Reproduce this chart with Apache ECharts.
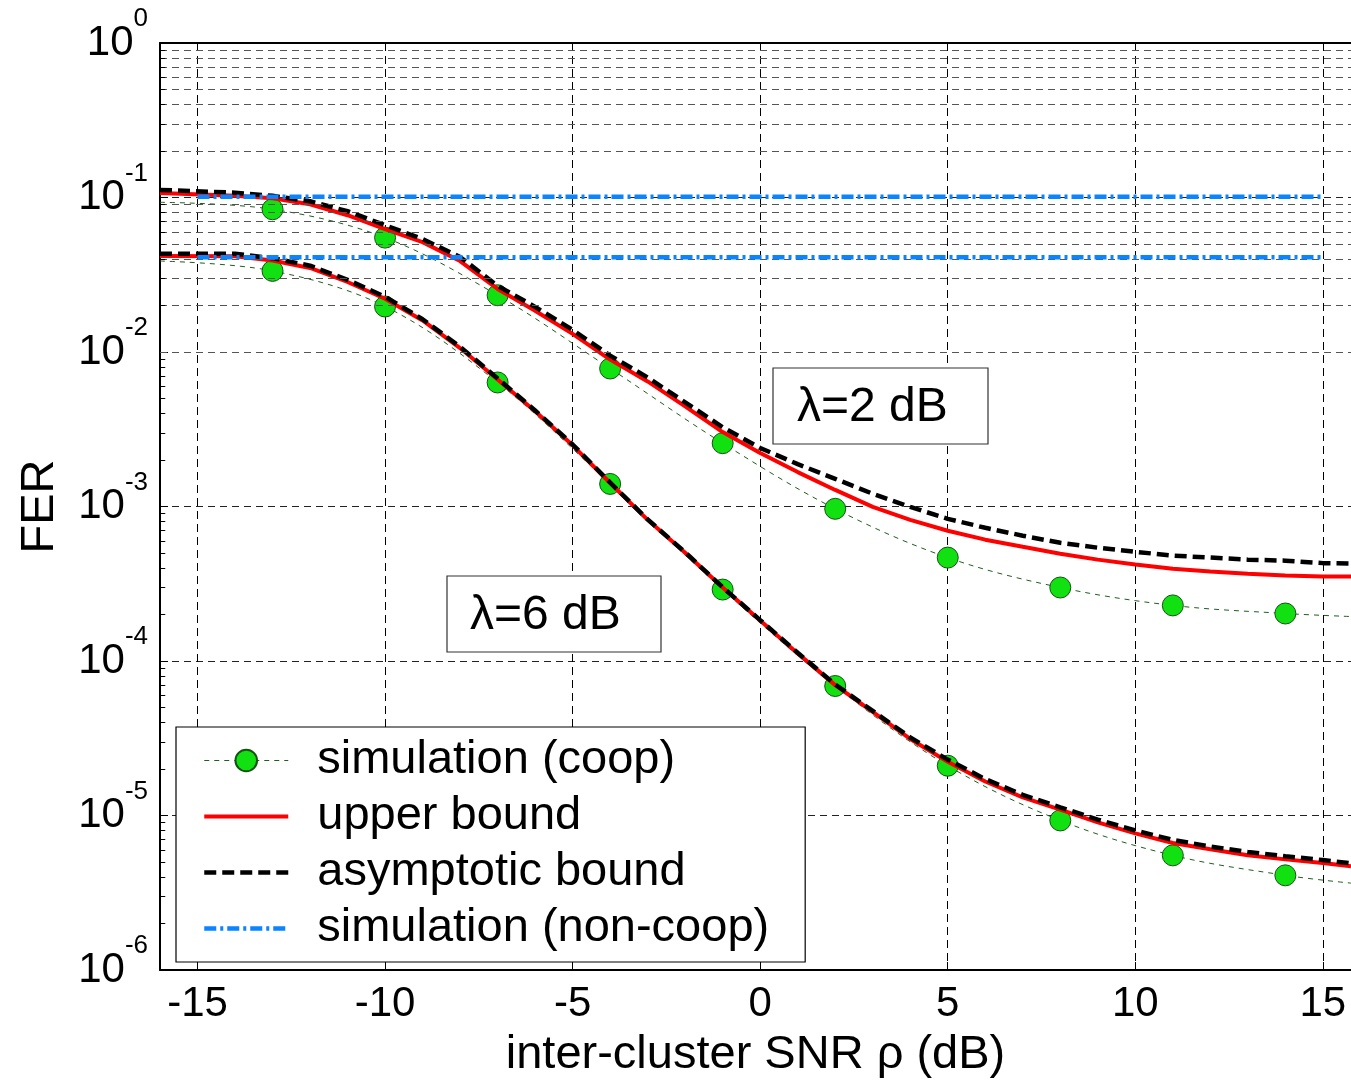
<!DOCTYPE html>
<html><head><meta charset="utf-8">
<script src="https://cdn.jsdelivr.net/npm/echarts@6/dist/echarts.min.js"></script>
<style>html,body{margin:0;padding:0;background:#fff}#c{width:1351px;height:1084px}</style>
</head><body><div id="c"></div>
<script>
const FONT = '"Liberation Sans", Arial, Helvetica, sans-serif';

// x positions (dB) at which the bound curves were read
const snrAxis = [-16,-14,-13,-12,-11,-10,-9,-8,-7,-6,-5,-4,-3,-2,-1,0,1,2,3,4,5,6,7,8,9,10,11,12,13,14,15,15.75];
// lambda = 2 dB
const upperL2 = [0.107,0.1025,0.0988,0.0904,0.0768,0.0624,0.0514,0.0388,0.0256,0.0185,0.0131,0.00893,0.00645,0.00445,0.00303,0.00222,0.00167,0.00128,0.000994,0.000820,0.000697,0.000610,0.000549,0.000495,0.000453,0.000421,0.000396,0.000379,0.000367,0.000357,0.000352,0.000352];
const asymL2 = [0.112,0.1075,0.1025,0.0945,0.0815,0.0662,0.0538,0.0412,0.0268,0.0196,0.0139,0.00948,0.00684,0.00472,0.00326,0.00239,0.00188,0.00151,0.00121,0.000994,0.000832,0.000728,0.000647,0.000582,0.000541,0.000509,0.000481,0.000467,0.000453,0.000446,0.000430,0.000427];
// lambda = 6 dB
const upperL6 = [0.0418,0.0416,0.0391,0.0350,0.0284,0.0221,0.0160,0.0106,0.00664,0.00413,0.00249,0.00142,0.000820,0.000502,0.000299,0.000183,0.000112,6.98e-5,4.68e-5,3.13e-5,2.23e-5,1.66e-5,1.31e-5,1.09e-5,9.03e-6,7.66e-6,6.64e-6,6.04e-6,5.53e-6,5.20e-6,4.93e-6,4.69e-6];
const asymL6 = [0.0433,0.0432,0.0405,0.0362,0.0293,0.0228,0.0163,0.0108,0.00675,0.00418,0.00252,0.00143,0.000825,0.000505,0.000300,0.000184,0.000113,7.05e-5,4.75e-5,3.2e-5,2.3e-5,1.72e-5,1.36e-5,1.13e-5,9.4e-6,8.0e-6,6.95e-6,6.3e-6,5.8e-6,5.45e-6,5.15e-6,4.9e-6];

// cooperative simulation points
const simSnr = [-13,-10,-7,-4,-1,2,5,8,11,14];
const simCoopL2 = [0.0839,0.0550,0.0233,0.00782,0.00257,0.000966,0.000467,0.000299,0.000229,0.000203];
const simCoopL6 = [0.0335,0.0197,0.00635,0.00140,0.000290,6.89e-5,2.10e-5,9.29e-6,5.52e-6,4.10e-6];
// ends of the thin fitted dashed line through the simulation points
const fitEndSnr = [-16, 15.75];
const fitEndL2 = [0.0931, 0.000194];
const fitEndL6 = [0.0388, 3.65e-6];

// non-cooperative simulation (flat)
const nonCoopSnr = [-15, 15];
const nonCoopL2 = [0.101, 0.101];
const nonCoopL6 = [0.041, 0.041];

const xTicks = [-15,-10,-5,0,5,10,15];
const minorMult = [2,3,4,5,6,7,8,9];
const decadeExp = [-6,-5,-4,-3,-2,-1];
const X_MIN = -16, X_MAX = 15.75, MINOR_TICK_SPAN = 0.14;

const pairs = (xs, ys) => xs.map((x,i)=>[x, ys[i]]);
function coopData(ends, pts){
  const d = [{value:[fitEndSnr[0], ends[0]], symbol:'none'}];
  simSnr.forEach((x,i)=>d.push([x, pts[i]]));
  d.push({value:[fitEndSnr[1], ends[1]], symbol:'none'});
  return d;
}
const minorVals = [];
decadeExp.forEach(e=>minorMult.forEach(m=>minorVals.push(m*Math.pow(10,e))));

const GREEN_LINE = {color:'#1f5f1f', width:1, type:[5,5]};
const RED_LINE = {color:'#ff0000', width:4};
const BLACK_LINE = {color:'#000000', width:4.5, type:[12,6]};
const BLUE_LINE = {color:'#0a84ff', width:4.5, type:[12,4,3,4]};

const coopStyle = {
  type:'line', name:'simulation (coop)', smooth:0.35, z:2,
  symbol:'circle', symbolSize:21,
  lineStyle:GREEN_LINE,
  itemStyle:{color:'#11e011', borderColor:'#145214', borderWidth:1}
};
const upperStyle = {type:'line', name:'upper bound', showSymbol:false, symbol:'none', z:3,
  lineStyle:RED_LINE, itemStyle:{color:'#ff0000', opacity:0}};
const asymStyle = {type:'line', name:'asymptotic bound', showSymbol:false, symbol:'none', z:4,
  lineStyle:BLACK_LINE, itemStyle:{color:'#000', opacity:0}};
const nonStyle = {type:'line', name:'simulation (non-coop)', showSymbol:false, symbol:'none', z:5,
  lineStyle:BLUE_LINE, itemStyle:{color:'#0a84ff', opacity:0}};

const chart = echarts.init(document.getElementById('c'), null, {renderer:'canvas'});
chart.setOption({
  animation:false,
  backgroundColor:'#fff',
  grid:{left:160, top:43, right:0, bottom:111, containLabel:false},
  xAxis:[{
    type:'value', min:X_MIN, max:X_MAX,
    name:'inter-cluster SNR ρ (dB)', nameLocation:'middle', nameGap:62,
    nameTextStyle:{fontFamily:FONT, fontSize:47, color:'#000'},
    axisLine:{show:true, onZero:false, lineStyle:{color:'#000', width:2}},
    axisTick:{show:true, inside:true, length:8, customValues:xTicks, lineStyle:{color:'#000'}},
    axisLabel:{customValues:xTicks, margin:13, fontFamily:FONT, fontSize:42, color:'#000'},
    splitLine:{show:true, lineStyle:{color:'#000', width:1, type:[8,5]}}
  },{
    type:'value', position:'top', min:X_MIN, max:X_MAX,
    axisLine:{show:true, onZero:false, lineStyle:{color:'#000', width:2}},
    axisTick:{show:true, inside:true, length:8, customValues:xTicks, lineStyle:{color:'#000'}},
    axisLabel:{show:false}, splitLine:{show:false}
  }],
  yAxis:{
    type:'log', logBase:10, min:1e-6, max:1, interval:1,
    name:'FER', nameLocation:'middle', nameGap:96, nameRotate:90,
    nameTextStyle:{fontFamily:FONT, fontSize:47, color:'#000'},
    axisLine:{show:true, onZero:false, lineStyle:{color:'#000', width:2}},
    axisTick:{show:true, inside:true, length:8, lineStyle:{color:'#000'}},
    axisLabel:{
      margin:12, fontFamily:FONT, color:'#000',
      formatter:function(v){ const e=Math.round(Math.log10(v)); return '{b|10}{s|'+e+'}'; },
      rich:{
        b:{fontFamily:FONT, fontSize:42, lineHeight:74, color:'#000'},
        s:{fontFamily:FONT, fontSize:26, lineHeight:20, verticalAlign:'top', color:'#000'}
      }
    },
    splitLine:{show:true, lineStyle:{color:'#222', width:1, type:[7,5]}}
  },
  legend:{
    data:[
      {name:'simulation (coop)', lineStyle:GREEN_LINE},
      {name:'upper bound', itemStyle:{opacity:0}, lineStyle:RED_LINE},
      {name:'asymptotic bound', itemStyle:{opacity:0}, lineStyle:BLACK_LINE},
      {name:'simulation (non-coop)', itemStyle:{opacity:0}, lineStyle:BLUE_LINE}
    ],
    orient:'vertical', left:176, top:727,
    backgroundColor:'#fff', borderColor:'#000', borderWidth:1.2,
    padding:[10,36,10,26], itemWidth:84, itemHeight:27, itemGap:9,
    textStyle:{fontFamily:FONT, fontSize:47, lineHeight:46, color:'#000', padding:[0,0,0,24]},
    selectedMode:false
  },
  graphic:[
    {type:'rect', z:10, shape:{x:773, y:368, width:215, height:76}, style:{fill:'#fff', stroke:'#333', lineWidth:1.2}},
    {type:'text', z:11, x:797, y:408, style:{text:'λ=2 dB', font:'48px '+FONT, fill:'#000', verticalAlign:'middle'}},
    {type:'rect', z:10, shape:{x:447, y:576, width:214, height:76}, style:{fill:'#fff', stroke:'#333', lineWidth:1.2}},
    {type:'text', z:11, x:470, y:616, style:{text:'λ=6 dB', font:'48px '+FONT, fill:'#000', verticalAlign:'middle'}}
  ],
  series:[
    {type:'line', name:'_minorgrid', data:[], silent:true, z:1,
      markLine:{silent:true, symbol:'none', animation:false, label:{show:false},
        lineStyle:{color:'#555', width:1, type:[7,5]},
        emphasis:{disabled:true},
        data:minorVals.map(v=>({yAxis:v}))}},
    {type:'line', name:'_minorticks', data:[], silent:true, z:6,
      markLine:{silent:true, symbol:'none', animation:false, label:{show:false},
        lineStyle:{color:'#000', width:1, type:'solid'},
        emphasis:{disabled:true},
        data:minorVals.map(v=>[{coord:[X_MIN, v]},{coord:[X_MIN+MINOR_TICK_SPAN, v]}])}},
    Object.assign({}, coopStyle, {data:coopData(fitEndL2, simCoopL2)}),
    Object.assign({}, coopStyle, {data:coopData(fitEndL6, simCoopL6)}),
    Object.assign({}, upperStyle, {data:pairs(snrAxis, upperL2)}),
    Object.assign({}, upperStyle, {data:pairs(snrAxis, upperL6)}),
    Object.assign({}, asymStyle, {data:pairs(snrAxis, asymL2)}),
    Object.assign({}, asymStyle, {data:pairs(snrAxis, asymL6)}),
    Object.assign({}, nonStyle, {data:pairs(nonCoopSnr, nonCoopL2)}),
    Object.assign({}, nonStyle, {data:pairs(nonCoopSnr, nonCoopL6)})
  ]
});
</script></body></html>
